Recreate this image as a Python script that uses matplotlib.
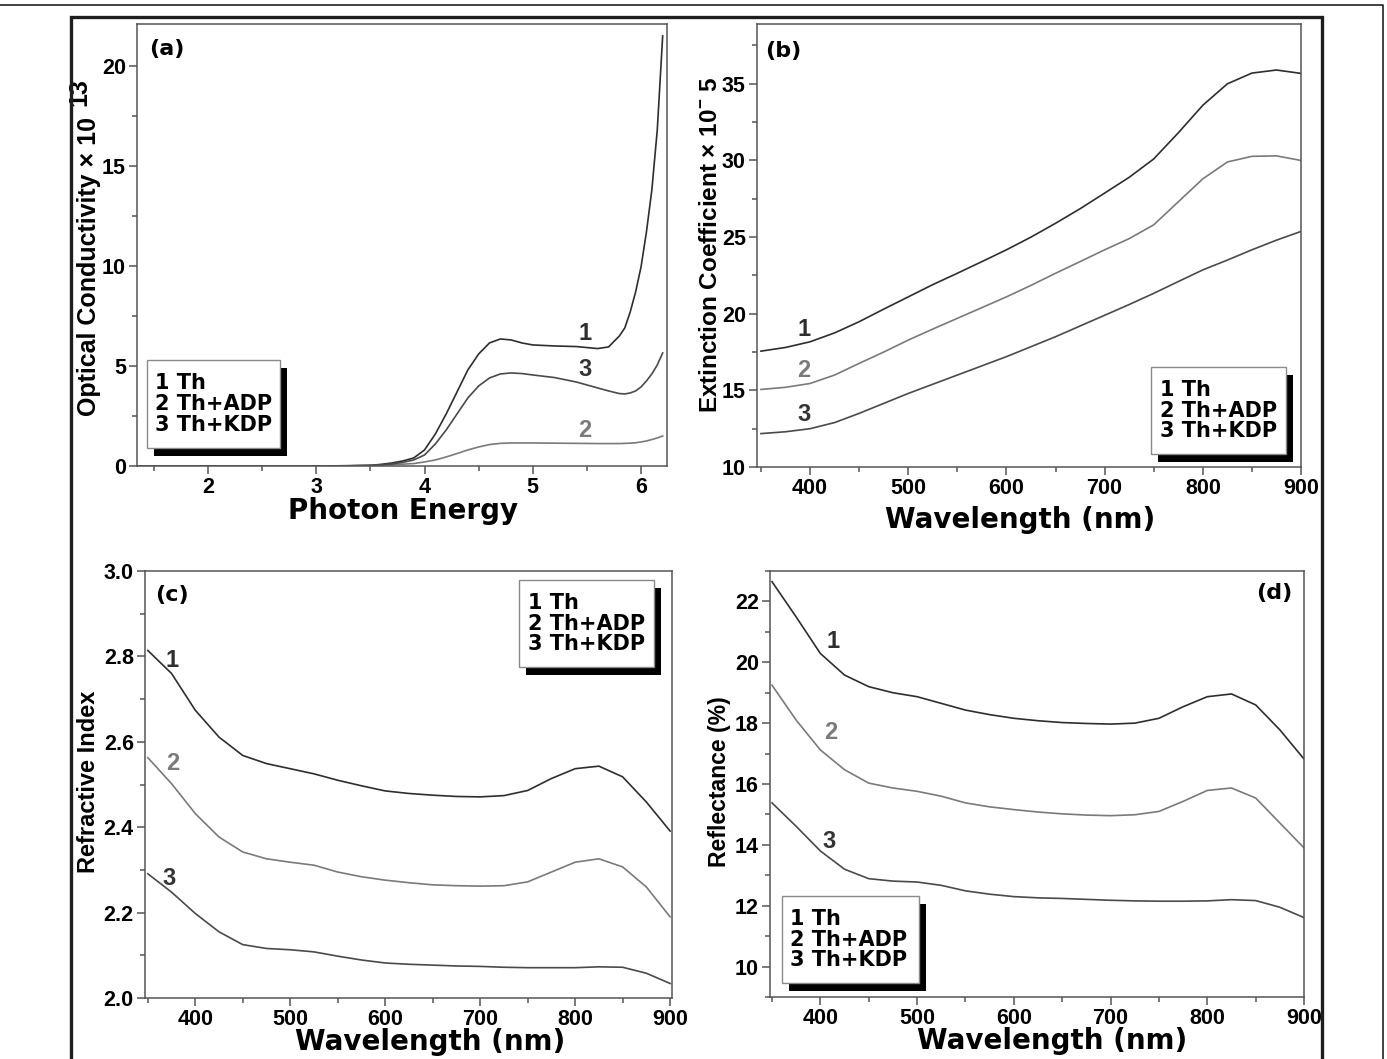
"""Four-panel optical constants figure: conductivity, extinction, refractive index, reflectance."""

import matplotlib

matplotlib.use("Agg")
import matplotlib.pyplot as plt
from matplotlib.patches import Rectangle
from matplotlib.lines import Line2D
from matplotlib.ticker import AutoMinorLocator, MultipleLocator
from matplotlib.transforms import offset_copy

plt.rcParams.update({
    "font.family": ["Liberation Sans Narrow", "Liberation Sans"],
    "font.weight": "bold",
    "mathtext.fontset": "custom",
    "mathtext.rm": "Liberation Sans:bold",
    "mathtext.default": "regular",
})

LABEL_FONT = "Liberation Sans"
WIDE_FONT = "DejaVu Sans"
C1, C2, C3 = "#2e2e2e", "#7a7a7a", "#4a4a4a"
SPINE = "#555555"

SAMPLES = ["1 Th", "2 Th+ADP", "3 Th+KDP"]

# (a) optical conductivity x 1e13 vs photon energy
energy = [1.35, 2.0, 2.5, 3.0, 3.3, 3.5, 3.6, 3.7, 3.8, 3.9, 4.0, 4.1, 4.2, 4.3, 4.4,
          4.5, 4.6, 4.7, 4.8, 4.9, 5.0, 5.2, 5.4, 5.6, 5.7, 5.8, 5.85, 5.9, 5.95,
          6.0, 6.05, 6.1, 6.15, 6.2]
cond_th = [0, 0, 0, 0, 0.01, 0.03, 0.08, 0.15, 0.25, 0.4, 0.8, 1.6, 2.6, 3.7, 4.8,
           5.6, 6.15, 6.35, 6.3, 6.15, 6.05, 6.0, 5.97, 5.87, 5.95, 6.5, 6.9, 7.7, 8.7,
           9.95, 11.7, 13.8, 16.8, 21.5]
cond_adp = [0, 0, 0, 0, 0.01, 0.02, 0.04, 0.06, 0.09, 0.12, 0.2, 0.3, 0.45, 0.62, 0.8,
            0.95, 1.07, 1.13, 1.15, 1.15, 1.15, 1.14, 1.13, 1.12, 1.12, 1.12, 1.13, 1.14,
            1.16, 1.2, 1.25, 1.32, 1.4, 1.5]
cond_kdp = [0, 0, 0, 0, 0.01, 0.03, 0.06, 0.1, 0.18, 0.3, 0.55, 1.1, 1.8, 2.6, 3.4,
            4.0, 4.4, 4.6, 4.65, 4.62, 4.55, 4.42, 4.2, 3.9, 3.75, 3.62, 3.6, 3.65, 3.75,
            3.95, 4.25, 4.6, 5.05, 5.65]

# wavelength grid shared by panels (b), (c), (d)
wl = [350, 375, 400, 425, 450, 475, 500, 525, 550, 575, 600, 625, 650, 675, 700,
      725, 750, 775, 800, 825, 850, 875, 900]

# (b) extinction coefficient x 1e-5
ext_th = [17.56, 17.8, 18.17, 18.75, 19.48, 20.3, 21.1, 21.9, 22.64, 23.4, 24.17, 25.0,
          25.9, 26.85, 27.87, 28.9, 30.1, 31.8, 33.6, 35.0, 35.7, 35.9, 35.68]
ext_adp = [15.06, 15.2, 15.45, 16.0, 16.76, 17.5, 18.28, 19.0, 19.7, 20.4, 21.1, 21.85,
           22.64, 23.4, 24.17, 24.9, 25.8, 27.3, 28.8, 29.9, 30.27, 30.3, 30.0]
ext_kdp = [12.18, 12.3, 12.5, 12.9, 13.5, 14.15, 14.8, 15.4, 16.0, 16.6, 17.2, 17.85,
           18.5, 19.2, 19.9, 20.6, 21.33, 22.1, 22.86, 23.5, 24.17, 24.8, 25.37]

# (c) refractive index
n_th = [2.814, 2.76, 2.674, 2.611, 2.568, 2.549, 2.537, 2.525, 2.51, 2.497, 2.485, 2.479,
        2.475, 2.472, 2.471, 2.474, 2.486, 2.514, 2.537, 2.543, 2.518, 2.459, 2.391]
n_adp = [2.563, 2.502, 2.432, 2.377, 2.342, 2.326, 2.318, 2.311, 2.295, 2.284, 2.276, 2.27,
         2.265, 2.263, 2.262, 2.263, 2.272, 2.295, 2.318, 2.326, 2.307, 2.26, 2.19]
n_kdp = [2.291, 2.248, 2.198, 2.155, 2.125, 2.116, 2.113, 2.108, 2.098, 2.089, 2.082, 2.079,
         2.077, 2.075, 2.074, 2.072, 2.071, 2.071, 2.071, 2.073, 2.072, 2.058, 2.034]

# (d) reflectance (%)
r_th = [22.65, 21.49, 20.29, 19.58, 19.2, 19.0, 18.87, 18.65, 18.43, 18.28, 18.16, 18.08,
        18.02, 17.99, 17.97, 18.0, 18.16, 18.54, 18.87, 18.96, 18.6, 17.78, 16.82]
r_adp = [19.25, 18.1, 17.12, 16.47, 16.03, 15.87, 15.76, 15.6, 15.38, 15.25, 15.16, 15.08,
         15.02, 14.98, 14.96, 14.99, 15.1, 15.43, 15.79, 15.87, 15.54, 14.72, 13.9]
r_kdp = [15.38, 14.61, 13.8, 13.2, 12.89, 12.81, 12.78, 12.67, 12.49, 12.38, 12.3, 12.26,
         12.24, 12.21, 12.18, 12.16, 12.15, 12.15, 12.16, 12.2, 12.17, 11.95, 11.61]


fig = plt.figure(figsize=(13.87, 10.59), dpi=100)

# outer frames of the scanned figure
fig.add_artist(Line2D([0.0, 0.9971, 0.9971], [0.9953, 0.9953, -0.01], transform=fig.transFigure,
                      color="#222222", lw=1.2))
fig.add_artist(Rectangle((0.051, -0.02), 0.9021, 1.004, transform=fig.transFigure,
                         fill=False, ec="#1e1e1e", lw=2.4))


def style(ax, xlim, ylim, xmaj, ymaj):
    ax.set_xlim(*xlim)
    ax.set_ylim(*ylim)
    ax.xaxis.set_major_locator(MultipleLocator(xmaj))
    ax.yaxis.set_major_locator(MultipleLocator(ymaj))
    ax.xaxis.set_minor_locator(AutoMinorLocator(2))
    ax.yaxis.set_minor_locator(AutoMinorLocator(2))
    ax.tick_params(which="both", direction="out", color=SPINE, width=1.1, top=False, right=False)
    ax.tick_params(which="major", length=6, labelsize=15.5, pad=2)
    ax.tick_params(which="minor", length=3.5)
    for s in ax.spines.values():
        s.set_color(SPINE)
        s.set_linewidth(1.1)


def legend_box(ax, x0, x1, y0, y1):
    shadow = offset_copy(ax.transAxes, fig=fig, x=7, y=-8, units="dots")
    ax.add_patch(Rectangle((x0, y0), x1 - x0, y1 - y0, transform=shadow, fc="black",
                           ec="none", zorder=5, clip_on=False))
    ax.add_patch(Rectangle((x0, y0), x1 - x0, y1 - y0, transform=ax.transAxes, fc="white",
                           ec="#8a8a8a", lw=1.0, zorder=6, clip_on=False))
    ax.text(x0 + 0.016, (y0 + y1) / 2, "\n".join(SAMPLES), transform=ax.transAxes,
            ha="left", va="center", fontsize=15, family=WIDE_FONT, weight="bold",
            linespacing=1.05, zorder=7)


def curves(ax, x, ys, labels_at):
    for y, c in zip(ys, (C1, C2, C3)):
        ax.plot(x, y, color=c, lw=1.2)
    for (tx, ty), txt, c in zip(labels_at, "123", (C1, C2, "#333333")):
        ax.text(tx, ty, txt, ha="center", va="center", fontsize=17, family=LABEL_FONT,
                weight="bold", color=c)


def xlabel(ax, text, x, y):
    ax.text(x, y, text, transform=ax.transAxes, ha="center", va="center", fontsize=20,
            family=WIDE_FONT, weight="bold")


def ylabel(ax, text, x, y, size):
    ax.text(x, y, text, transform=ax.transAxes, ha="center", va="center", rotation=90,
            fontsize=size, family=LABEL_FONT, weight="bold")


def tag(ax, text, x, y, ha="left"):
    ax.text(x, y, text, transform=ax.transAxes, ha=ha, va="center", fontsize=16,
            family=WIDE_FONT, weight="bold")


# --- (a) ---
ax = fig.add_axes([0.0988, 0.5600, 0.3821, 0.4174])
style(ax, (1.344, 6.24), (0, 22.1), 1, 5)
curves(ax, energy, [cond_th, cond_adp, cond_kdp], [(5.48, 6.6), (5.48, 1.75), (5.48, 4.8)])
legend_box(ax, 0.018, 0.270, 0.041, 0.240)
xlabel(ax, "Photon Energy", 0.502, -0.102)
ylabel(ax, "Optical Conductivity × 10", -0.091, 0.452, 18)
ylabel(ax, "13", -0.109, 0.846, 18)
tag(ax, "(a)", 0.023, 0.943)

# --- (b) ---
ax = fig.add_axes([0.5458, 0.5590, 0.3922, 0.4183])
style(ax, (346, 900), (10, 38.9), 100, 5)
curves(ax, wl, [ext_th, ext_adp, ext_kdp], [(394, 19.0), (394, 16.3), (394, 13.4)])
legend_box(ax, 0.724, 0.972, 0.029, 0.226)
xlabel(ax, "Wavelength (nm)", 0.483, -0.120)
ylabel(ax, r"Extinction Coefficient × 10$^{-}$ 5", -0.086, 0.501, 17.5)
tag(ax, "(b)", 0.015, 0.94)

# --- (c) ---
ax = fig.add_axes([0.1045, 0.0576, 0.3800, 0.4032])
style(ax, (347, 902), (2.0, 3.0), 100, 0.2)
curves(ax, wl, [n_th, n_adp, n_kdp], [(376, 2.79), (376, 2.55), (372, 2.28)])
legend_box(ax, 0.710, 0.966, 0.775, 0.979)
xlabel(ax, "Wavelength (nm)", 0.542, -0.102)
ylabel(ax, "Refractive Index", -0.108, 0.506, 17)
tag(ax, "(c)", 0.019, 0.944)

# --- (d) ---
ax = fig.add_axes([0.5552, 0.0585, 0.3850, 0.4023])
style(ax, (348, 900), (9, 23), 100, 2)
curves(ax, wl, [r_th, r_adp, r_kdp], [(413, 20.7), (411, 17.7), (409, 14.1)])
legend_box(ax, 0.022, 0.279, 0.033, 0.237)
xlabel(ax, "Wavelength (nm)", 0.528, -0.102)
ylabel(ax, "Reflectance (%)", -0.094, 0.505, 16.6)
tag(ax, "(d)", 0.979, 0.948, ha="right")

fig.savefig("out.png", dpi=100, facecolor="white")
